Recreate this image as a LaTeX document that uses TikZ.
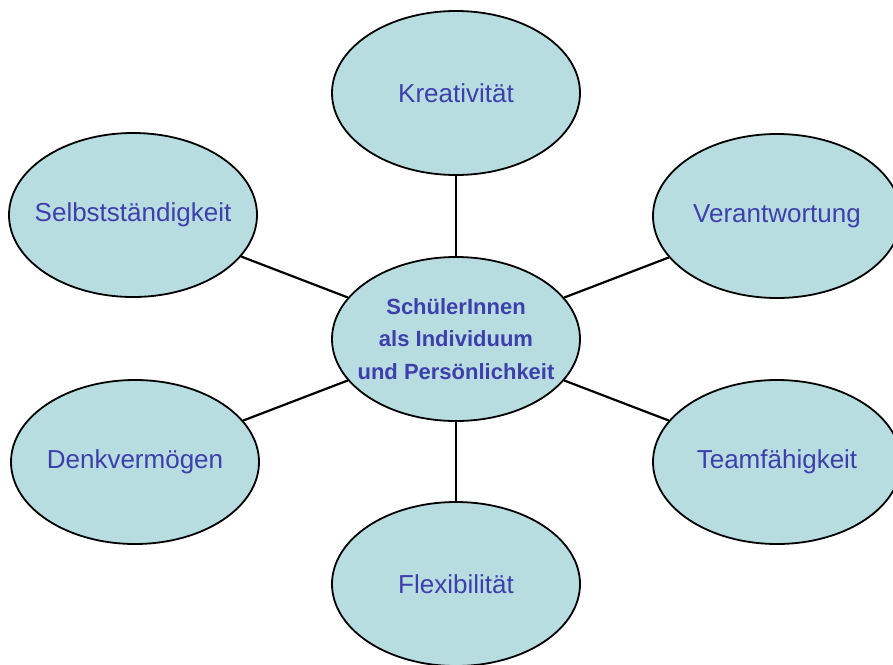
\documentclass[tikz,border=0pt]{standalone}
\usepackage{fontspec}
\setmainfont{Liberation Sans}
\usepackage{xcolor}
\usetikzlibrary{shapes.geometric}
\definecolor{bubblefill}{RGB}{184,221,224}
\definecolor{labelblue}{RGB}{62,62,172}

\begin{document}
\begin{tikzpicture}[x=0.5pt, y=-0.5pt,
				bubble/.style={ellipse, draw=black, line width=0.9pt, fill=bubblefill,
					minimum width=124pt, minimum height=82pt, inner xsep=-10pt, inner ysep=0pt,
					text=labelblue, font=\fontsize{13}{15}\selectfont},
				hub/.style={bubble, align=center, font=\fontsize{11}{16.25}\selectfont\bfseries}]
				\fill[white] (0,0) rectangle (893,664);
				\useasboundingbox (0,0) rectangle (893,664);
				\node at (456,339) (s) [hub] {SchülerInnen\\als Individuum\\und Persönlichkeit};
				\node at (456,93) (k) [bubble] {Kreativität};
				\node at (133,215) (sb) [bubble] {Selbstständigkeit};
				\node at (777,216) (v) [bubble] {Verantwortung};
				\node at (135,462) (dv) [bubble] {Denkvermögen};
				\node at (777,462) (t) [bubble] {Teamfähigkeit};
				\node at (456,584) (f) [bubble] {Flexibilität};
				\draw[-, black, line width=1.1pt] (s) -- (k);
				\draw[-, black, line width=1.1pt] (s) -- (sb);
				\draw[-, black, line width=1.1pt] (s) -- (v);
				\draw[-, black, line width=1.1pt] (s) -- (dv);
				\draw[-, black, line width=1.1pt] (s) -- (t);
				\draw[-, black, line width=1.1pt] (s) -- (f);
			\end{tikzpicture}
\end{document}
